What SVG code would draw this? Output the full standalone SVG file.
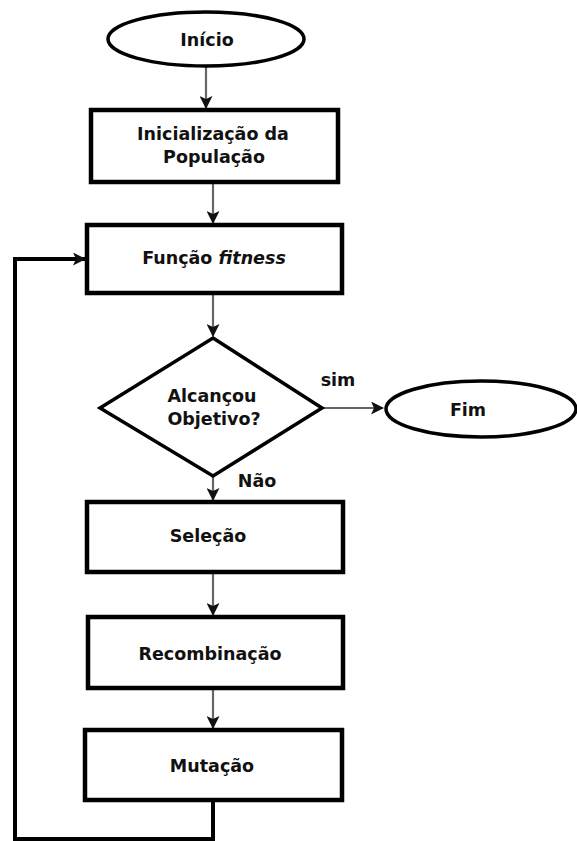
<svg xmlns="http://www.w3.org/2000/svg" width="577" height="841" viewBox="0 0 577 841">
<style>
.box{fill:#fff;stroke:#000;stroke-width:4.5}
.term{fill:#fff;stroke:#000;stroke-width:3.5}
.t{font-family:"DejaVu Sans","Liberation Sans",Arial,sans-serif;font-weight:bold;font-size:17.5px;fill:#111;text-anchor:middle}
.c{fill:none;stroke:#666;stroke-width:2.2}
.loop{fill:none;stroke:#000;stroke-width:4}
</style>
<defs>
<marker id="ah" markerWidth="13" markerHeight="13" refX="12" refY="6.5" orient="auto" markerUnits="userSpaceOnUse">
<path d="M0,0 L13,6.5 L0,13 L3,6.5 Z" fill="#111"/>
</marker>
</defs>
<rect width="577" height="841" fill="#fff"/>
<g id="connectors">
<line class="c" x1="206" y1="67" x2="206" y2="108" marker-end="url(#ah)"/>
<line class="c" x1="213" y1="184" x2="213" y2="223" marker-end="url(#ah)"/>
<line class="c" x1="213" y1="295" x2="213" y2="336" marker-end="url(#ah)"/>
<line class="c" x1="213" y1="476" x2="213" y2="500" marker-end="url(#ah)"/>
<line class="c" x1="213" y1="574" x2="213" y2="615" marker-end="url(#ah)"/>
<line class="c" x1="213" y1="690" x2="213" y2="728" marker-end="url(#ah)"/>
<line class="c" x1="323" y1="408" x2="383" y2="408" marker-end="url(#ah)"/>
<polyline class="loop" points="213,802 213,839 15,839 15,259 85,259" marker-end="url(#ah)"/>
<text class="t" x="338" y="386">sim</text>
<text class="t" x="257" y="487">Não</text>
</g>
<g id="inicio">
<ellipse class="term" cx="206" cy="39" rx="98" ry="27"/>
<text class="t" x="207" y="46">Início</text>
</g>
<g id="inicializacao">
<rect class="box" x="91" y="110" width="247" height="72"/>
<text class="t" x="213" y="140">Inicialização da</text>
<text class="t" x="214" y="163">População</text>
</g>
<g id="fitness">
<rect class="box" x="87" y="225" width="255" height="68"/>
<text class="t" x="214" y="264">Função <tspan font-style="italic">fitness</tspan></text>
</g>
<g id="decisao">
<polygon points="213,338 322,408 213,476 100,408" fill="#fff" stroke="#000" stroke-width="3.5" stroke-linejoin="miter"/>
<text class="t" x="212" y="402">Alcançou</text>
<text class="t" x="214" y="425">Objetivo?</text>
</g>
<g id="fim">
<ellipse class="term" cx="481" cy="409" rx="95" ry="28"/>
<text class="t" x="468" y="416">Fim</text>
</g>
<g id="selecao">
<rect class="box" x="87" y="502" width="256" height="70"/>
<text class="t" x="208" y="542">Seleção</text>
</g>
<g id="recombinacao">
<rect class="box" x="88" y="617" width="255" height="71"/>
<text class="t" x="210" y="660">Recombinação</text>
</g>
<g id="mutacao">
<rect class="box" x="85" y="730" width="257" height="70"/>
<text class="t" x="212" y="772">Mutação</text>
</g>
</svg>
